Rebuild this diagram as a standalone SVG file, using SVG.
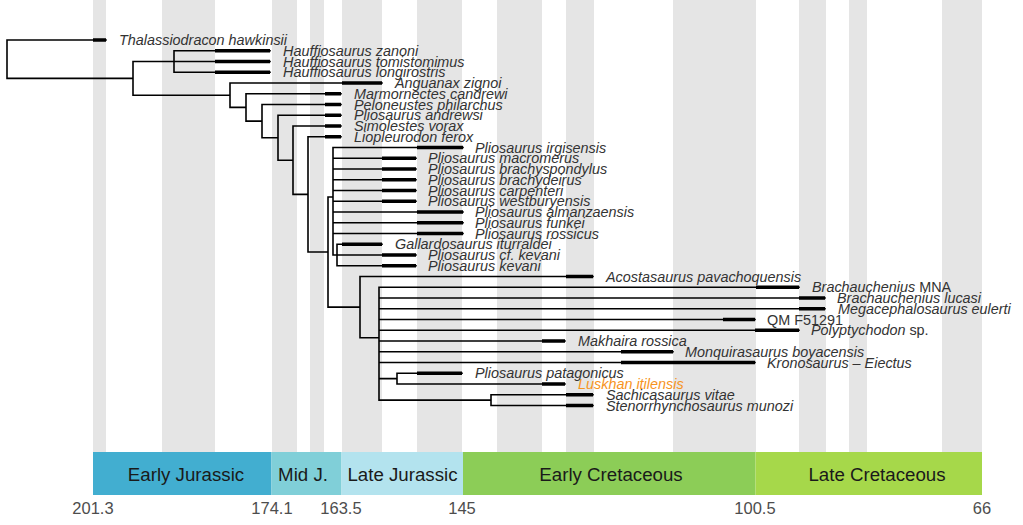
<svg xmlns="http://www.w3.org/2000/svg" width="1023" height="525" viewBox="0 0 1023 525">
<style>
.band{fill:#e5e5e5}
.br{stroke:#000;stroke-width:1.6;fill:none;stroke-linecap:square}
.th{stroke:#000;stroke-width:3.6;fill:none}
.lab{font-family:"Liberation Sans",Arial,sans-serif;font-size:14.4px;font-style:italic;fill:#333}
.up{font-style:normal}
.per{font-family:"Liberation Sans",Arial,sans-serif;font-size:18.7px;fill:#1a1a1a;text-anchor:middle}
.tick{font-family:"Liberation Sans",Arial,sans-serif;font-size:16.5px;fill:#4d4d4d;text-anchor:middle}
</style>
<rect width="1023" height="525" fill="#fff"/>
<g id="bands">
<rect class="band" x="93" y="0" width="13" height="452"/>
<rect class="band" x="162" y="0" width="53" height="452"/>
<rect class="band" x="272" y="0" width="25" height="452"/>
<rect class="band" x="310" y="0" width="14" height="452"/>
<rect class="band" x="342" y="0" width="40" height="452"/>
<rect class="band" x="417" y="0" width="45" height="452"/>
<rect class="band" x="497" y="0" width="45" height="452"/>
<rect class="band" x="566" y="0" width="28" height="452"/>
<rect class="band" x="673" y="0" width="83" height="452"/>
<rect class="band" x="799" y="0" width="27" height="452"/>
<rect class="band" x="849" y="0" width="18" height="452"/>
<rect class="band" x="942" y="0" width="40" height="452"/>
</g>
<g id="timescale">
<g id="early-jurassic"><rect x="93" y="452" width="178.5" height="43" fill="#42AED0"/><text class="per" x="186" y="480.5">Early Jurassic</text></g>
<g id="mid-jurassic"><rect x="271.5" y="452" width="70" height="43" fill="#80CFD8"/><text class="per" x="303" y="480.5">Mid J.</text></g>
<g id="late-jurassic"><rect x="341.5" y="452" width="121.5" height="43" fill="#B3E3EE"/><text class="per" x="402.5" y="480.5">Late Jurassic</text></g>
<g id="early-cretaceous"><rect x="463" y="452" width="292.5" height="43" fill="#8CCD57"/><text class="per" x="611" y="480.5">Early Cretaceous</text></g>
<g id="late-cretaceous"><rect x="755.5" y="452" width="226.5" height="43" fill="#A6D84A"/><text class="per" x="877" y="480.5">Late Cretaceous</text></g>
<g id="ticks">
<text class="tick" x="93" y="514">201.3</text>
<text class="tick" x="272" y="514">174.1</text>
<text class="tick" x="341" y="514">163.5</text>
<text class="tick" x="462" y="514">145</text>
<text class="tick" x="755" y="514">100.5</text>
<text class="tick" x="982" y="514">66</text>
</g>
</g>
<g id="connectors">
<path class="br" d="M7,40V78.35M7,40H106M7,78.35H133
M133,61.5V95.2M133,61.5H174M133,95.2H230
M174,50.75V72.25M174,50.75H270M174,61.5H270M174,72.25H270
M230,83V107.4M230,83H382M230,107.4H246
M246,93.75V121.1M246,93.75H341M246,121.1H262
M262,104.5V137.7M262,104.5H341M262,137.7H278
M278,115.25V160.2M278,115.25H341M278,160.2H293
M293,126V194.4M293,126H341M293,194.4H308
M308,136.75V252M308,136.75H341M308,252H328
M328,196.95V307.1M328,196.95H333M328,307.1H360
M333,147.5V255M333,147.5H463M333,158.25H416M333,169H416M333,179.75H416M333,190.5H416M333,201.25H416M333,212H463M333,222.75H463M333,233.5H463M333,255H337
M337,244.25V265.75M337,244.25H382M337,255H416M337,265.75H416
M360,276.5V337.8M360,276.5H593M360,337.8H379
M379,287.25V400.1M379,287.25H799M379,298H825M379,308.75H825M379,319.5H755M379,330.25H799M379,341H565M379,351.75H673M379,362.5H755M379,378.6H397M379,400.1H491
M397,373.25V384M397,373.25H462M397,384H565
M491,394.75V405.5M491,394.75H593M491,405.5H593"/>
<path class="th" d="M93,40H106M215,50.75H270M215,61.5H270M215,72.25H270M342,83H382
M325,93.75H341M325,104.5H341M325,115.25H341M325,126H341M325,136.75H341
M417,147.5H463M382,158.25H416M382,169H416M382,179.75H416M382,190.5H416M382,201.25H416
M417,212H463M417,222.75H463M417,233.5H463M342,244.25H382M382,255H416M382,265.75H416
M566,276.5H593M756,287.25H799M799,298H825M799,308.75H825M723,319.5H755M755,330.25H799
M542,341H565M621,351.75H673M621,362.5H755M417,373.25H462M542,384H565M566,394.75H593M566,405.5H593"/>
</g>
<g id="tips">
<g id="t0"><text class="lab" x="119" y="45">Thalassiodracon hawkinsii</text></g>
<g id="t1"><text class="lab" x="283" y="55.75">Hauffiosaurus zanoni</text></g>
<g id="t2"><text class="lab" x="283" y="66.5">Hauffiosaurus tomistomimus</text></g>
<g id="t3"><text class="lab" x="283" y="77.25">Hauffiosaurus longirostris</text></g>
<g id="t4"><text class="lab" x="395" y="88">Anguanax zignoi</text></g>
<g id="t5"><text class="lab" x="354" y="98.75">Marmornectes candrewi</text></g>
<g id="t6"><text class="lab" x="354" y="109.5">Peloneustes philarchus</text></g>
<g id="t7"><text class="lab" x="354" y="120.25">Pliosaurus andrewsi</text></g>
<g id="t8"><text class="lab" x="354" y="131">Simolestes vorax</text></g>
<g id="t9"><text class="lab" x="354" y="141.75">Liopleurodon ferox</text></g>
<g id="t10"><text class="lab" x="475" y="152.5">Pliosaurus irgisensis</text></g>
<g id="t11"><text class="lab" x="428" y="163.25">Pliosaurus macromerus</text></g>
<g id="t12"><text class="lab" x="428" y="174">Pliosaurus brachyspondylus</text></g>
<g id="t13"><text class="lab" x="428" y="184.75">Pliosaurus brachydeirus</text></g>
<g id="t14"><text class="lab" x="428" y="195.5">Pliosaurus carpenteri</text></g>
<g id="t15"><text class="lab" x="428" y="206.25">Pliosaurus westburyensis</text></g>
<g id="t16"><text class="lab" x="475" y="217">Pliosaurus almanzaensis</text></g>
<g id="t17"><text class="lab" x="475" y="227.75">Pliosaurus funkei</text></g>
<g id="t18"><text class="lab" x="475" y="238.5">Pliosaurus rossicus</text></g>
<g id="t19"><text class="lab" x="395" y="249.25">Gallardosaurus iturraldei</text></g>
<g id="t20"><text class="lab" x="428" y="260">Pliosaurus cf. kevani</text></g>
<g id="t21"><text class="lab" x="428" y="270.75">Pliosaurus kevani</text></g>
<g id="t22"><text class="lab" x="606" y="281.5">Acostasaurus pavachoquensis</text></g>
<g id="t23"><text class="lab" x="812" y="292.25">Brachauchenius <tspan class="up">MNA</tspan></text></g>
<g id="t24"><text class="lab" x="837" y="303">Brachauchenius lucasi</text></g>
<g id="t25"><text class="lab" x="838" y="313.75">Megacephalosaurus eulerti</text></g>
<g id="t26"><text class="lab up" x="767" y="324.5">QM F51291</text></g>
<g id="t27"><text class="lab" x="811" y="335.25">Polyptychodon <tspan class="up">sp.</tspan></text></g>
<g id="t28"><text class="lab" x="578" y="346">Makhaira rossica</text></g>
<g id="t29"><text class="lab" x="685" y="356.75">Monquirasaurus boyacensis</text></g>
<g id="t30"><text class="lab" x="767" y="367.5">Kronosaurus – Eiectus</text></g>
<g id="t31"><text class="lab" x="475" y="378.25">Pliosaurus patagonicus</text></g>
<g id="t32"><text class="lab" x="578" y="389" style="fill:#F7941D">Luskhan itilensis</text></g>
<g id="t33"><text class="lab" x="606" y="399.75">Sachicasaurus vitae</text></g>
<g id="t34"><text class="lab" x="606" y="410.5">Stenorrhynchosaurus munozi</text></g>
</g>
</svg>
